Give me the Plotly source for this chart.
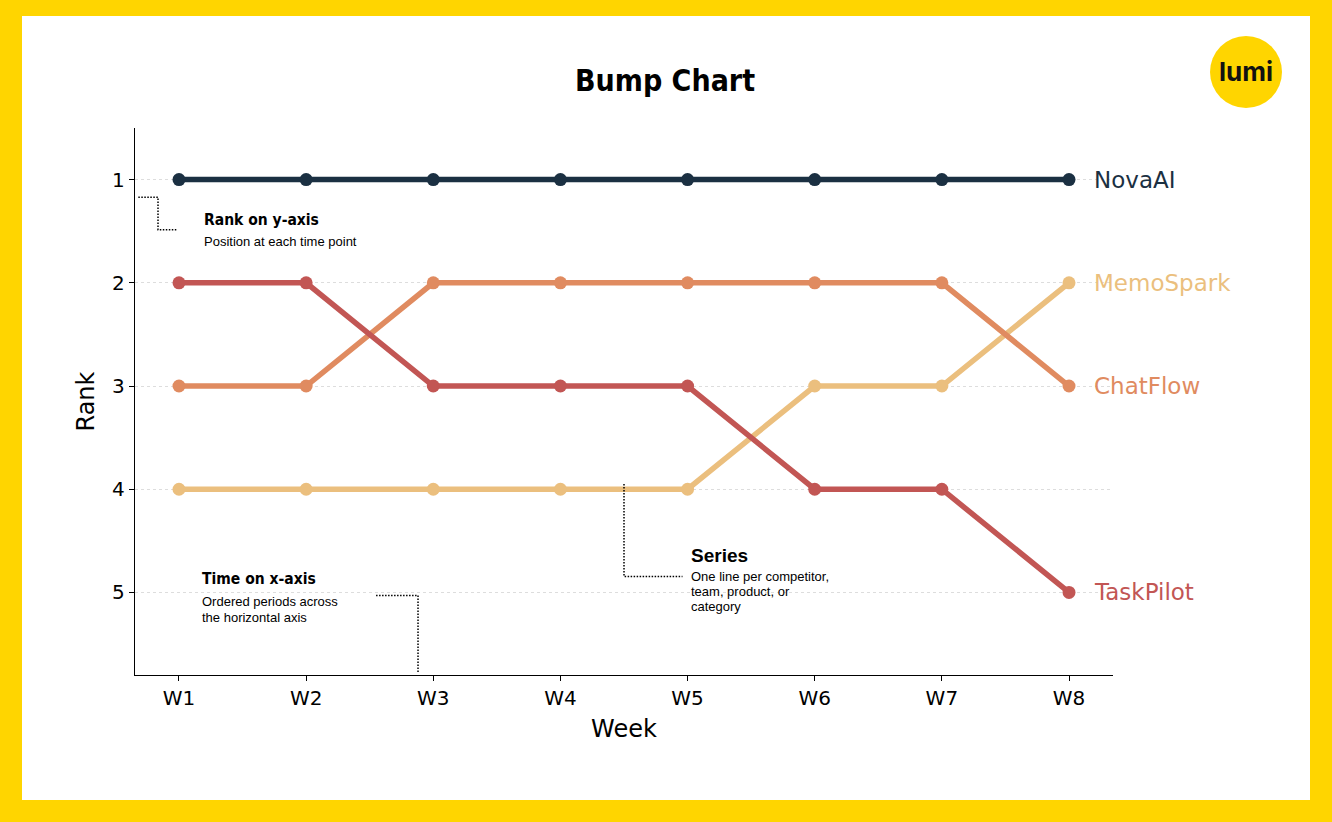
import plotly.graph_objects as go

weeks = ["W1", "W2", "W3", "W4", "W5", "W6", "W7", "W8"]
series_names = ["NovaAI", "TaskPilot", "ChatFlow", "MemoSpark"]
nova_ai = [1, 1, 1, 1, 1, 1, 1, 1]
task_pilot = [2, 2, 3, 3, 3, 4, 4, 5]
chat_flow = [3, 3, 2, 2, 2, 2, 2, 3]
memo_spark = [4, 4, 4, 4, 4, 3, 3, 2]
colors = ["#1b3042", "#c25654", "#e08b60", "#ebbf7e"]

ranks = [nova_ai, task_pilot, chat_flow, memo_spark]
xs = list(range(len(weeks)))

W, H = 1332, 822
ML, MR, MT, MB = 135, 219, 128, 147
PW, PH = W - ML - MR, H - MT - MB


def px(x):
    return (x - ML) / PW


def py(y):
    return (H - MB - y) / PH


fig = go.Figure()

# draw MemoSpark first so darker lines sit on top, NovaAI last
for name, vals, col in reversed(list(zip(series_names, ranks, colors))):
    fig.add_trace(go.Scatter(
        x=xs, y=vals, mode="lines+markers", name=name,
        line=dict(color=col, width=5.5),
        marker=dict(color=col, size=13),
        showlegend=False,
    ))
    fig.add_annotation(
        x=7.18, y=vals[-1], text=name, showarrow=False,
        xanchor="left", yanchor="middle",
        font=dict(family="DejaVu Sans", size=23, color=col),
    )

# white card on yellow frame
fig.add_shape(type="rect", xref="paper", yref="paper",
              x0=px(22), x1=px(1310), y0=py(800), y1=py(16),
              fillcolor="white", line_width=0, layer="below")

# logo
fig.add_shape(type="circle", xref="paper", yref="paper",
              x0=px(1210), x1=px(1282), y0=py(108), y1=py(36),
              fillcolor="#FFD500", line_width=0)
fig.add_annotation(xref="paper", yref="paper", x=px(1246), y=py(71),
                   xanchor="center", yanchor="middle",
                   text="<b>lumi</b>", showarrow=False,
                   font=dict(family="Inter", size=26, color="#111111"))

narrow = "Liberation Sans Narrow, DejaVu Sans Condensed, Roboto Condensed, Arial Narrow, sans-serif"
body = "Liberation Sans, Arial, sans-serif"

# title
fig.add_annotation(xref="paper", yref="paper", x=px(665), y=py(80),
                   xanchor="center", yanchor="middle",
                   text="<b>Bump Chart</b>", showarrow=False,
                   font=dict(family=narrow, size=30, color="black"))

# callout leader lines (dotted)
dot = dict(color="black", width=1.5, dash="1.5px,1.5px")
callouts = [
    [(-0.32, 1.17), (-0.165, 1.17), (-0.165, 1.485), (-0.01, 1.485)],
    [(1.55, 5.03), (1.88, 5.03), (1.88, 5.78)],
    [(3.5, 3.95), (3.5, 4.845), (3.96, 4.845)],
]
for pts in callouts:
    path = "M " + " L ".join(f"{x},{y}" for x, y in pts)
    fig.add_shape(type="path", xref="x", yref="y", path=path, line=dot)

notes = [
    (0.18, 1.395, "<b>Rank on y-axis</b>", narrow, 15.5),
    (0.18, 1.60, "Position at each time point", body, 13),
    (0.165, 4.87, "<b>Time on x-axis</b>", narrow, 15.5),
    (0.165, 5.085, "Ordered periods across", body, 13),
    (0.165, 5.24, "the horizontal axis", body, 13),
    (4.01, 4.64, "<b>Series</b>", body, 19),
    (4.01, 4.845, "One line per competitor,", body, 13),
    (4.01, 4.99, "team, product, or", body, 13),
    (4.01, 5.135, "category", body, 13),
]
for x, y, t, fam, sz in notes:
    fig.add_annotation(x=x, y=y, text=t, showarrow=False,
                       xanchor="left", yanchor="middle",
                       font=dict(family=fam, size=sz, color="black"))

fig.update_layout(
    width=W, height=H,
    margin=dict(l=ML, r=MR, t=MT, b=MB),
    paper_bgcolor="#FFD500",
    plot_bgcolor="rgba(0,0,0,0)",
    font=dict(family="DejaVu Sans", color="black"),
)
fig.update_xaxes(
    range=[-0.346, 7.346], tickvals=xs, ticktext=weeks,
    showgrid=False, zeroline=False,
    showline=True, linecolor="black", linewidth=1.3,
    ticks="outside", ticklen=5, tickcolor="black",
    tickfont=dict(size=20),
    title=dict(text="Week", font=dict(size=24), standoff=11),
)
fig.update_yaxes(
    range=[5.8, 0.5], tickvals=[1, 2, 3, 4, 5],
    showgrid=True, gridcolor="#dddddd", griddash="dot", gridwidth=1,
    zeroline=False,
    showline=True, linecolor="black", linewidth=1.3,
    ticks="outside", ticklen=5, tickcolor="black",
    tickfont=dict(size=20),
    title=dict(text="Rank", font=dict(size=24), standoff=10),
)

fig.write_html("out.html", config={"displayModeBar": False},
               post_script="document.body.style.margin='0';")
